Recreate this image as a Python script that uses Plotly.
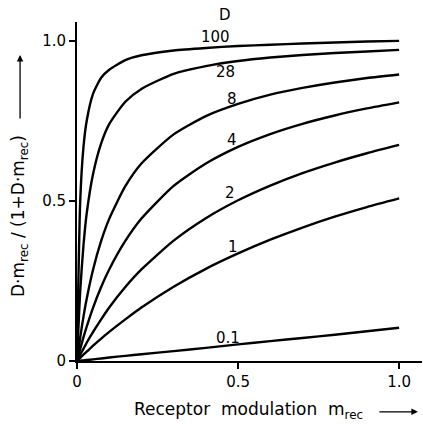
import plotly.graph_objects as go

# Receptor modulation values (x) at which curves were read
m_rec = [0, 0.01, 0.02, 0.03, 0.05, 0.075, 0.1, 0.15, 0.2, 0.3, 0.4, 0.5, 0.6, 0.7, 0.8, 0.9, 1.0]

# D labels
d_labels = ["100", "28", "8", "4", "2", "1", "0.1"]

# Curve values (y = D*m/(1+D*m))
y_100 = [0, 0.50, 0.667, 0.75, 0.835, 0.885, 0.91, 0.94, 0.955, 0.97, 0.978, 0.984, 0.988, 0.992, 0.995, 0.998, 1.0]
y_28 = [0, 0.22, 0.36, 0.46, 0.585, 0.68, 0.74, 0.81, 0.85, 0.897, 0.921, 0.937, 0.948, 0.956, 0.962, 0.967, 0.972]
y_8 = [0, 0.074, 0.138, 0.194, 0.286, 0.375, 0.444, 0.546, 0.617, 0.708, 0.765, 0.803, 0.832, 0.853, 0.870, 0.884, 0.895]
y_4 = [0, 0.038, 0.074, 0.107, 0.167, 0.231, 0.286, 0.375, 0.445, 0.547, 0.617, 0.669, 0.709, 0.741, 0.767, 0.789, 0.808]
y_2 = [0, 0.0196, 0.038, 0.057, 0.091, 0.13, 0.167, 0.231, 0.286, 0.376, 0.446, 0.502, 0.548, 0.587, 0.62, 0.649, 0.675]
y_1 = [0, 0.0099, 0.0196, 0.029, 0.048, 0.07, 0.091, 0.13, 0.167, 0.232, 0.288, 0.336, 0.379, 0.417, 0.451, 0.481, 0.508]
y_01 = [0, 0.001, 0.002, 0.003, 0.005, 0.008, 0.011, 0.016, 0.021, 0.031, 0.041, 0.052, 0.062, 0.072, 0.082, 0.093, 0.104]

series = [y_100, y_28, y_8, y_4, y_2, y_1, y_01]

# Label positions (data coords)
label_x = [0.43, 0.46, 0.48, 0.48, 0.475, 0.485, 0.47]
label_y = [1.012, 0.903, 0.82, 0.69, 0.525, 0.356, 0.072]

FONT = "DejaVu Sans"

fig = go.Figure()
for ys in series:
    fig.add_trace(go.Scatter(x=m_rec, y=ys, mode="lines",
                             line=dict(color="black", width=2.4, shape="spline", smoothing=0.6),
                             showlegend=False, hoverinfo="skip", cliponaxis=False))

for lab, lx, ly in zip(d_labels, label_x, label_y):
    fig.add_annotation(x=lx, y=ly, text=lab, showarrow=False, xref="x", yref="y",
                       font=dict(family=FONT, size=15, color="black"))
fig.add_annotation(x=0.429, y=1.02, text="D", showarrow=False, xref="paper", yref="paper",
                   xanchor="center", yanchor="middle",
                   font=dict(family=FONT, size=15, color="black"))

# axis titles
fig.add_annotation(xref="paper", yref="paper", x=-0.165, y=0.428, textangle=-90,
                   xanchor="center", yanchor="middle",
                   text="D·m<sub>rec</sub> / (1+D·m<sub>rec</sub>)", showarrow=False,
                   font=dict(family=FONT, size=17, color="black"))
fig.add_annotation(xref="paper", yref="paper", x=0.16, y=-0.145, xanchor="left", yanchor="middle",
                   text="Receptor  modulation  m<sub>rec</sub>", showarrow=False,
                   font=dict(family=FONT, size=17, color="black"))
# arrows
fig.add_annotation(xref="paper", yref="paper", x=-0.165, y=0.903, ax=0, ay=65,
                   showarrow=True, arrowhead=2, arrowsize=1,
                   arrowwidth=1.3, arrowcolor="black", text="")
fig.add_annotation(xref="paper", yref="paper", x=0.988, y=-0.150, ax=-40, ay=0,
                   showarrow=True, arrowhead=2, arrowsize=1,
                   arrowwidth=1.3, arrowcolor="black", text="")

fig.update_layout(
    width=423, height=430,
    margin=dict(l=77, r=1, t=22, b=69),
    plot_bgcolor="white", paper_bgcolor="white",
    font=dict(family=FONT, size=15, color="black"),
    xaxis=dict(range=[0, 1.071], tickvals=[0, 0.5, 1.0], ticktext=["0", "0.5", "1.0"],
               showgrid=False, zeroline=False, showline=True, linecolor="black", linewidth=2,
               ticks="outside", ticklen=6, tickwidth=1.5, tickcolor="black"),
    yaxis=dict(range=[0, 1.059], tickvals=[0, 0.5, 1.0], ticktext=["0", "0.5", "1.0"],
               showgrid=False, zeroline=False, showline=True, linecolor="black", linewidth=2,
               ticks="outside", ticklen=6, tickwidth=1.5, tickcolor="black"),
)

fig.write_html("out.html")
